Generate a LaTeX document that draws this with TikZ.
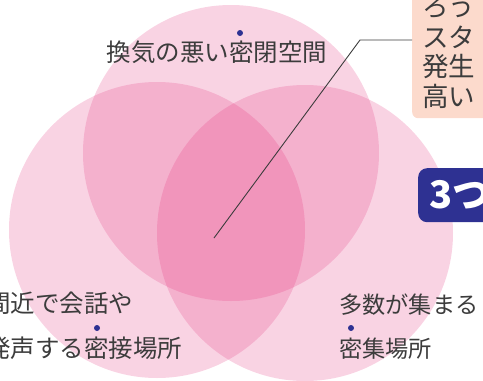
\documentclass[tikz,border=0pt]{standalone}
\usepackage{fontspec}
\setmainfont{Noto Sans CJK JP}
\usetikzlibrary{positioning}
\definecolor{venn pink}{RGB}{226,40,118}
\definecolor{dot blue}{RGB}{46,49,146}
\definecolor{callout peach}{RGB}{252,218,204}
\definecolor{text gray}{RGB}{60,60,60}

\begin{document}
\begin{tikzpicture}[x=1pt,y=-1pt,
		venn/.style={circle,fill=venn pink,fill opacity=0.205,minimum size=296pt,inner sep=0pt},
		label text/.style={font=\fontsize{24.5}{29}\selectfont,text=text gray,inner sep=0pt,anchor=west},
		small text/.style={label text,font=\fontsize{23.2}{29}\selectfont},
		callout text/.style={label text,font=\fontsize{26.5}{30}\selectfont},
		blue dot/.style={circle,fill=dot blue,inner sep=0pt,minimum size=6pt},
		callout/.style={fill=callout peach,rounded corners=6pt,inner sep=0pt,anchor=north west},
		badge/.style={fill=dot blue,rounded corners=9pt,text=white,font=\fontsize{38}{40}\selectfont\bfseries,anchor=north west,inner xsep=11pt,text width=80pt,minimum height=54pt}]
	\useasboundingbox (0,0) rectangle (483,381);
	\clip (0,0) rectangle (483,381);
	% Circles
	\node[venn] (closed) at (231,153) {};
	\node[venn] (contact) at (157,230) {};
	\node[venn] (crowd) at (305,233) {};
	% Labels
	\node[label text,anchor=center] (closed label) at (217,52) {換気の悪い密閉空間};
	\node[blue dot] (closed dot) at (240,33) {};
	\node[label text] (contact label a) at (-14,303) {間近で会話や};
	\node[label text] (contact label b) at (-14,348) {発声する密接場所};
	\node[blue dot] (contact dot) at (97,328) {};
	\node[small text] (crowd label a) at (339,305) {多数が集まる};
	\node[small text] (crowd label b) at (339,349) {密集場所};
	\node[blue dot] (crowd dot) at (351,328) {};
	% Callout
	\node[callout,minimum width=120pt,minimum height=140pt] (callout) at (412,-22) {};
	\node[callout text] (callout a) at (422,7) {ろう};
	\node[callout text] (callout b) at (422,37) {スタ};
	\node[callout text] (callout c) at (422,66) {発生};
	\node[callout text] (callout d) at (422,96) {高い};
	\node[badge] (badge) at (418,168) {3つ};
	% Leader
	\coordinate (middle) at (214,238);
	\coordinate (bend) at (360,40);
	\draw[text gray,line width=0.9pt] (middle) -- (bend) -- (bend -| callout.west);
\end{tikzpicture}
\end{document}
